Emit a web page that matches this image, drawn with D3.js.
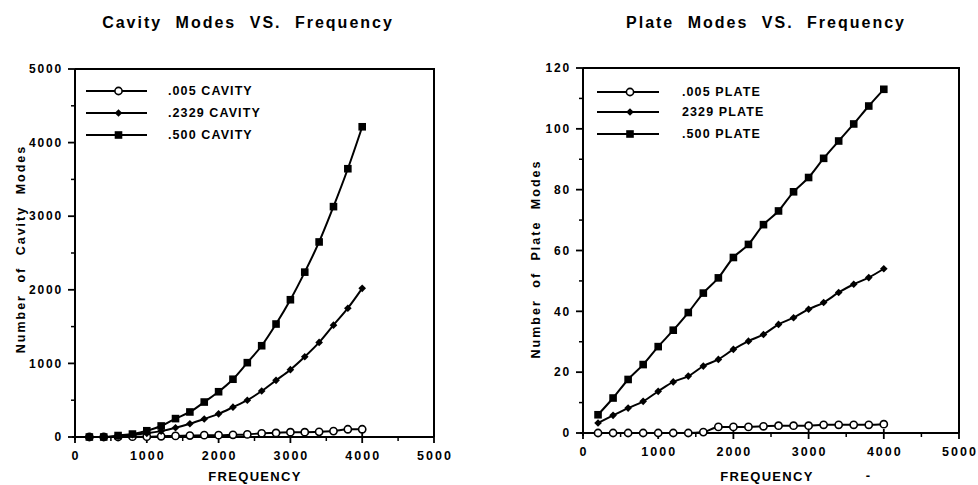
<!DOCTYPE html>
<html>
<head>
<meta charset="utf-8">
<script src="https://cdn.jsdelivr.net/npm/d3@7/dist/d3.min.js"></script>
<style>
  html, body { margin: 0; padding: 0; background: #fff; }
  svg { display: block; font-family: "Liberation Sans", Arial, sans-serif; }
</style>
</head>
<body>
<svg id="chart" width="978" height="485"></svg>
<script>
// Frequencies sampled (Hz)
var freq = [200, 400, 600, 800, 1000, 1200, 1400, 1600, 1800, 2000,
            2200, 2400, 2600, 2800, 3000, 3200, 3400, 3600, 3800, 4000];

// Cavity modes
var cavity005  = [0, 0, 0, 5, 5, 10, 15, 20, 25, 25, 30, 35, 50, 55, 65, 65, 70, 80, 105, 105];
var cavity2329 = [0, 0, 10, 30, 50, 80, 125, 180, 245, 315, 405, 500, 625, 770, 915, 1090, 1285, 1520, 1750, 2020];
var cavity500  = [0, 0, 20, 40, 85, 150, 250, 340, 475, 615, 785, 1010, 1240, 1535, 1865, 2240, 2650, 3130, 3645, 4215];

// Plate modes
var plate005  = [0, 0, 0, 0, 0, 0, 0, 0.3, 2, 2, 2, 2.2, 2.4, 2.4, 2.4, 2.7, 2.7, 2.7, 2.7, 2.9];
var plate2329 = [3.3, 5.8, 8.2, 10.4, 13.7, 16.8, 18.7, 22, 24.2, 27.5, 30.2, 32.4, 35.7, 37.9, 40.7, 42.9, 46.2, 48.9, 51.1, 54];
var plate500  = [6, 11.5, 17.6, 22.5, 28.4, 33.8, 39.6, 46, 51, 57.7, 62, 68.5, 73, 79.3, 84, 90.3, 96, 101.6, 107.5, 113];

var cavityNames = [".005 CAVITY", ".2329 CAVITY", ".500 CAVITY"];
var plateNames  = [".005 PLATE", "2329 PLATE", ".500 PLATE"];
var markerKinds = ["circle", "diamond", "square"];

var svg = d3.select("#chart");

function drawPanel(p) {
  var x = d3.scaleLinear().domain([0, 5000]).range([p.left, p.right]);
  var y = d3.scaleLinear().domain([0, p.ymax]).range([p.bottom, p.top]);
  var g = svg.append("g");

  // title
  g.append("text")
    .attr("x", p.titleX).attr("y", 28)
    .attr("text-anchor", "middle")
    .attr("font-size", 16).attr("font-weight", "bold")
    .attr("letter-spacing", 2).attr("word-spacing", 7)
    .text(p.title);

  // frame (top + right), axes drawn below
  g.append("path")
    .attr("d", "M" + p.left + "," + p.top + "H" + p.right + "V" + p.bottom)
    .attr("fill", "none").attr("stroke", "#000").attr("stroke-width", 2);

  // x axis
  var xAxis = g.append("g").attr("transform", "translate(0," + p.bottom + ")");
  xAxis.append("line")
    .attr("x1", p.left - 3).attr("x2", p.right)
    .attr("stroke", "#000").attr("stroke-width", 2);
  xAxis.selectAll(".xmin").data(d3.range(500, 5001, 1000)).join("line")
    .attr("x1", x).attr("x2", x).attr("y1", 0).attr("y2", 4)
    .attr("stroke", "#000").attr("stroke-width", 1.5);
  xAxis.selectAll(".xmaj").data(x.ticks(5)).join("line")
    .attr("x1", x).attr("x2", x).attr("y1", -4).attr("y2", 6)
    .attr("stroke", "#000").attr("stroke-width", 1.8);
  xAxis.selectAll(".xlab").data(x.ticks(5)).join("text")
    .attr("x", function (d) { return x(d) + 1; })
    .attr("y", 23)
    .attr("text-anchor", "middle")
    .attr("font-size", 12.5).attr("font-weight", "bold").attr("letter-spacing", 2)
    .text(function (d) { return d; });
  g.append("text")
    .attr("x", p.xLabelX).attr("y", 481)
    .attr("text-anchor", "middle")
    .attr("font-size", 13).attr("font-weight", "bold").attr("letter-spacing", 1.3)
    .text("FREQUENCY");

  // y axis
  var yAxis = g.append("g").attr("transform", "translate(" + p.left + ",0)");
  yAxis.append("line")
    .attr("y1", p.top).attr("y2", p.bottom + 3)
    .attr("stroke", "#000").attr("stroke-width", 2);
  yAxis.selectAll(".ymin").data(p.minorY).join("line")
    .attr("x1", -4).attr("x2", 0).attr("y1", y).attr("y2", y)
    .attr("stroke", "#000").attr("stroke-width", 1.5);
  yAxis.selectAll(".ymaj").data(p.majorY).join("line")
    .attr("x1", -7).attr("x2", 0).attr("y1", y).attr("y2", y)
    .attr("stroke", "#000").attr("stroke-width", 1.8);
  yAxis.selectAll(".ylab").data(p.majorY).join("text")
    .attr("x", -12).attr("y", y)
    .attr("dy", "0.35em")
    .attr("text-anchor", "end")
    .attr("font-size", 12).attr("font-weight", "bold").attr("letter-spacing", 1.8)
    .text(function (d) { return d; });
  g.append("text")
    .attr("transform", "translate(" + p.yLabelX + "," + p.yLabelY + ") rotate(-90)")
    .attr("text-anchor", "middle")
    .attr("font-size", 12.5).attr("font-weight", "bold")
    .attr("letter-spacing", 2).attr("word-spacing", 6)
    .text(p.yLabel);

  // series
  var line = d3.line()
    .x(function (d) { return x(d[0]); })
    .y(function (d) { return y(d[1]); })
    .curve(d3.curveMonotoneX);

  p.series.forEach(function (vals, i) {
    var pts = freq.map(function (f, j) { return [f, vals[j]]; });
    g.append("path")
      .datum(pts)
      .attr("d", line)
      .attr("fill", "none").attr("stroke", "#000").attr("stroke-width", 2);
    var m = g.append("g");
    pts.forEach(function (d) { marker(m, markerKinds[i], x(d[0]), y(d[1])); });
  });

  // legend
  var lg = g.append("g");
  p.names.forEach(function (name, i) {
    var ly = p.legY[i];
    lg.append("line")
      .attr("x1", p.legX1).attr("x2", p.legX2).attr("y1", ly).attr("y2", ly)
      .attr("stroke", "#000").attr("stroke-width", 2);
    marker(lg, markerKinds[i], (p.legX1 + p.legX2) / 2 + 2, ly);
    lg.append("text")
      .attr("x", p.legTextX).attr("y", ly + 4)
      .attr("font-size", 12.5).attr("font-weight", "bold").attr("letter-spacing", 1.1)
      .text(name);
  });
}

function marker(sel, kind, cx, cy) {
  if (kind === "circle") {
    sel.append("circle")
      .attr("cx", cx).attr("cy", cy).attr("r", 3.6)
      .attr("fill", "#fff").attr("stroke", "#000").attr("stroke-width", 1.6);
  } else if (kind === "diamond") {
    sel.append("rect")
      .attr("x", -2.7).attr("y", -2.7).attr("width", 5.4).attr("height", 5.4)
      .attr("transform", "translate(" + cx + "," + cy + ") rotate(45)")
      .attr("fill", "#000");
  } else {
    sel.append("rect")
      .attr("x", cx - 3.8).attr("y", cy - 3.8)
      .attr("width", 7.6).attr("height", 7.6)
      .attr("fill", "#000");
  }
}

drawPanel({
  title: "Cavity Modes VS. Frequency", titleX: 248,
  left: 75, right: 434, top: 69, bottom: 437, ymax: 5000,
  majorY: d3.range(0, 5001, 1000), minorY: d3.range(500, 5000, 1000),
  yLabel: "Number of Cavity Modes", yLabelX: 25, yLabelY: 249,
  xLabelX: 255,
  series: [cavity005, cavity2329, cavity500], names: cavityNames,
  legX1: 86, legX2: 147, legY: [91, 113, 135], legTextX: 168
});

drawPanel({
  title: "Plate Modes VS. Frequency", titleX: 766,
  left: 583, right: 959, top: 68, bottom: 433, ymax: 120,
  majorY: d3.range(0, 121, 20), minorY: d3.range(10, 120, 20),
  yLabel: "Number of Plate Modes", yLabelX: 540, yLabelY: 259,
  xLabelX: 767,
  series: [plate005, plate2329, plate500], names: plateNames,
  legX1: 597, legX2: 659, legY: [92, 112, 134], legTextX: 682
});

// stray dash under the right axis, as in the scan
svg.append("text")
  .attr("x", 868).attr("y", 480)
  .attr("text-anchor", "middle")
  .attr("font-size", 13).attr("font-weight", "bold")
  .text("-");
</script>
</body>
</html>
